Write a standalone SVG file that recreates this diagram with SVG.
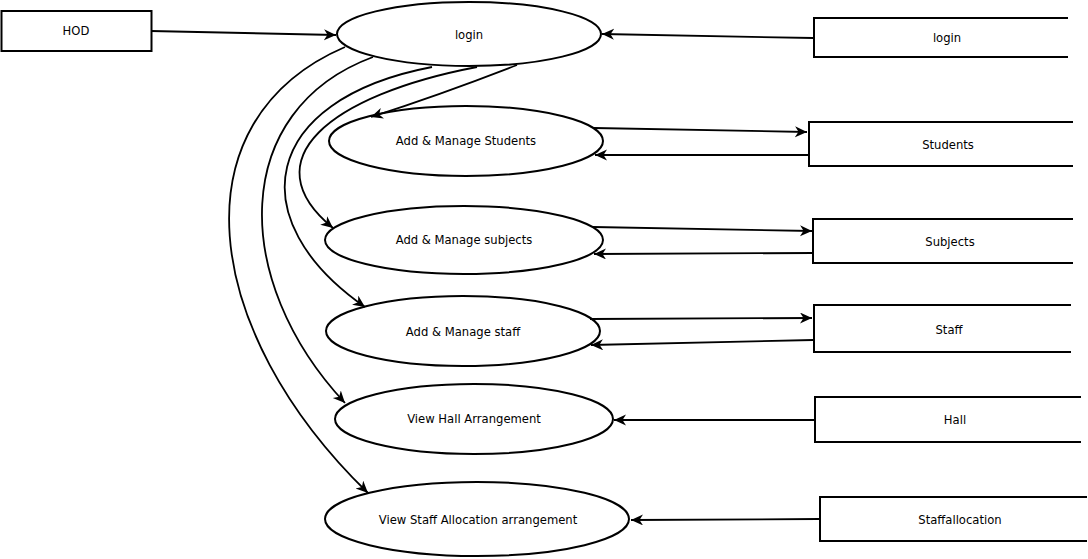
<svg xmlns="http://www.w3.org/2000/svg" width="1088" height="559" viewBox="0 0 1088 559">
<style>
.shape{fill:#fff;stroke:#000;stroke-width:2}
.store{fill:none;stroke:#000;stroke-width:2}
.lbl{font-family:"DejaVu Sans",sans-serif;font-size:11.6px;fill:#000;text-anchor:middle;dominant-baseline:central}
.edge{fill:none;stroke:#000;stroke-width:1.8;marker-end:url(#arr)}
</style>
<defs>
<marker id="arr" markerWidth="14" markerHeight="12" refX="12" refY="5.5" orient="auto" markerUnits="userSpaceOnUse">
<path d="M0,0 L12,5.5 L0,11 L3.5,5.5 z" fill="#000"/>
</marker>
</defs>
<rect width="1088" height="559" fill="#fff"/>
<g id="hod"><rect class="shape" x="1.5" y="11" width="150" height="40"/><text class="lbl" x="76" y="31">HOD</text></g>
<g id="p-login"><ellipse class="shape" cx="469" cy="34" rx="132" ry="32"/><text class="lbl" x="469" y="35">login</text></g>
<g id="p-students"><ellipse class="shape" cx="466" cy="141" rx="137" ry="35"/><text class="lbl" x="466" y="141">Add &amp; Manage Students</text></g>
<g id="p-subjects"><ellipse class="shape" cx="464" cy="240" rx="139" ry="34"/><text class="lbl" x="464" y="240">Add &amp; Manage subjects</text></g>
<g id="p-staff"><ellipse class="shape" cx="463" cy="331" rx="137" ry="35"/><text class="lbl" x="463" y="332">Add &amp; Manage staff</text></g>
<g id="p-hall"><ellipse class="shape" cx="474" cy="419" rx="139" ry="35"/><text class="lbl" x="474" y="419">View Hall Arrangement</text></g>
<g id="p-alloc"><ellipse class="shape" cx="477" cy="519" rx="152" ry="37"/><text class="lbl" x="478" y="520">View Staff Allocation arrangement</text></g>
<g id="s-login"><path class="store" d="M1068,18 H814 V57 H1068"/><text class="lbl" x="947" y="38">login</text></g>
<g id="s-students"><path class="store" d="M1073,122 H809 V166 H1073"/><text class="lbl" x="948" y="145">Students</text></g>
<g id="s-subjects"><path class="store" d="M1073,219 H813 V263 H1073"/><text class="lbl" x="950" y="242">Subjects</text></g>
<g id="s-staff"><path class="store" d="M1071,305 H814 V352 H1071"/><text class="lbl" x="949" y="330">Staff</text></g>
<g id="s-hall"><path class="store" d="M1081,397 H815 V442 H1081"/><text class="lbl" x="955" y="420">Hall</text></g>
<g id="s-alloc"><path class="store" d="M1087,497 H820 V541 H1087"/><text class="lbl" x="960" y="520">Staffallocation</text></g>
<g id="connectors">
<path class="edge" d="M151,31 L336,35"/>
<path class="edge" d="M813,38 L602,34"/>
<path class="edge" d="M517,65 Q440,95 371,117"/>
<path class="edge" d="M477,67 C330,95 250,160 333,228"/>
<path class="edge" d="M432,67 C260,100 240,220 365,307"/>
<path class="edge" d="M373,57 C230,110 230,280 345,403"/>
<path class="edge" d="M345,47 C175,120 200,330 368,493"/>
<path class="edge" d="M594,128 L807,132"/>
<path class="edge" d="M808,155 L595,155"/>
<path class="edge" d="M593,227 L812,231"/>
<path class="edge" d="M813,253 L594,254"/>
<path class="edge" d="M590,319 L812,318"/>
<path class="edge" d="M813,340 L591,345"/>
<path class="edge" d="M814,420 L614,420"/>
<path class="edge" d="M819,519 L631,520"/>
</g>
</svg>
